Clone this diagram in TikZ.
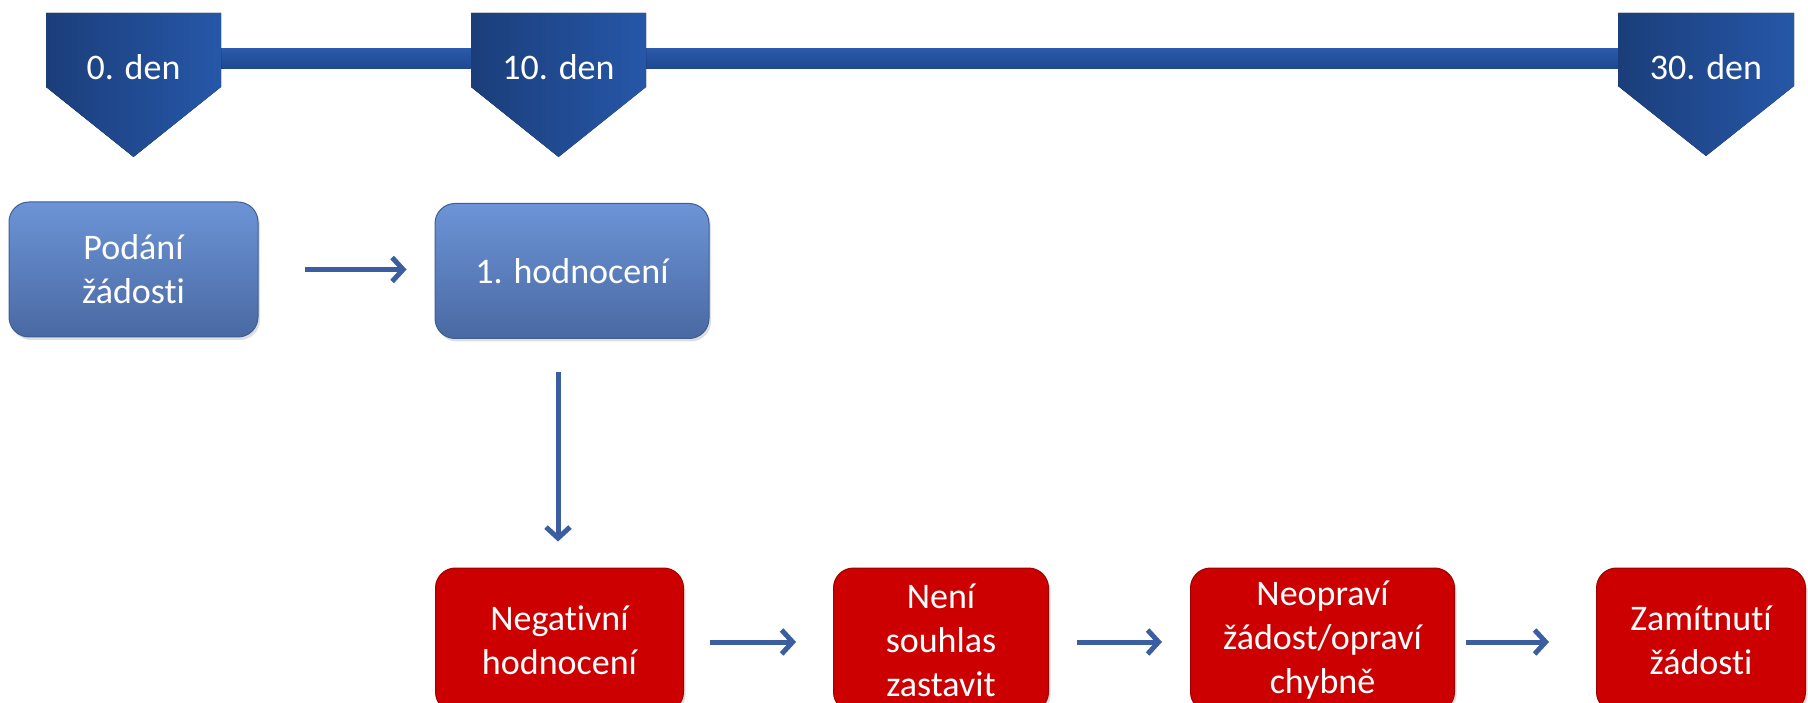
\documentclass[tikz,border=0pt]{standalone}
\usepackage{fontspec}
\setmainfont[Ligatures=NoCommon]{Carlito}
\usetikzlibrary{arrows.meta,shadows}
\definecolor{penL}{HTML}{1B3E7A}
\definecolor{penR}{HTML}{2657A8}
\definecolor{barT}{HTML}{2A5AAA}
\definecolor{barB}{HTML}{1E478F}
\definecolor{blueT}{HTML}{6C94D6}
\definecolor{blueB}{HTML}{4A69A3}
\definecolor{blueD}{HTML}{3F5E96}
\definecolor{redC}{HTML}{CC0000}
\definecolor{redT}{HTML}{E45050}
\definecolor{redD}{HTML}{A00000}
\definecolor{arrC}{HTML}{3A5E9F}
\pgfdeclareverticalshading{redgloss}{100bp}{color(0bp)=(redC); color(82bp)=(redC); color(92bp)=(redC!85!redT); color(100bp)=(redT)}
\begin{document}
\begin{tikzpicture}[x=1pt,y=-1pt,
  txt/.style={text=white,font=\fontsize{36}{44}\selectfont,align=center},
  boxbase/.style={txt,rounded corners=20pt,line width=1pt,inner sep=0pt,
     drop shadow={opacity=0.25,shadow xshift=2pt,shadow yshift=-3pt}},
  bluebox/.style={boxbase,draw=blueD,top color=blueT,bottom color=blueB,minimum height=135pt},
  redbox/.style={boxbase,draw=redD,shading=redgloss,minimum height=144pt},
  pent/.style={left color=penL,right color=penR},
  arr/.style={draw=arrC,line width=5pt,-{Straight Barb[length=11pt,width=24pt,line width=5pt]}}
]
\useasboundingbox (0,0) rectangle (1808,703);
\clip (0,0) rectangle (1808,703);

% timeline bar
\shade[top color=barT,bottom color=barB] (200,49) rectangle (1640,69);

% pentagons
\fill[pent] (46,13) -- (221,13) -- (221,87) -- (133.5,157) -- (46,87) -- cycle;
\fill[pent] (471,13) -- (646,13) -- (646,87) -- (558.5,157) -- (471,87) -- cycle;
\fill[pent] (1618,13) -- (1794,13) -- (1794,86) -- (1706,156) -- (1618,86) -- cycle;
\node[txt,anchor=base] (d0) at (133.5,80) {0. den};
\node[txt,anchor=base] (d10) at (558.5,80) {10. den};
\node[txt,anchor=base] (d30) at (1706,80) {30. den};

% blue boxes
\node[bluebox,minimum width=249pt] (pod) at (133.5,269.5) {Podání\\žádosti};
\node[bluebox,minimum width=274pt] (hod) at (572,271) {1. hodnocení};

% red boxes
\node[redbox,minimum width=248pt] (neg) at (559.5,640) {Negativní\\hodnocení};
\node[redbox,minimum width=215pt] (nen) at (941,640) {Není\\souhlas\\zastavit};
\node[redbox,minimum width=264pt] (neo) at (1322.5,640) {Neopraví\\žádost/opraví\\chybně};
\node[redbox,minimum width=209pt] (zam) at (1701,640) {Zamítnutí\\žádosti};

% connectors
\draw[arr,shorten <=46pt,shorten >=28pt] (pod.east) -- (pod.east -| hod.west);
\draw[arr,shorten <=33pt,shorten >=26pt] (hod.south -| 558,0) -- (neg.north -| 558,0);
\draw[arr,shorten <=26pt,shorten >=37pt] ([yshift=-2pt]neg.east) -- ([yshift=-2pt]nen.west);
\draw[arr,shorten <=28pt,shorten >=28pt] ([yshift=-2pt]nen.east) -- ([yshift=-2pt]neo.west);
\draw[arr,shorten <=11pt,shorten >=47pt] ([yshift=-2pt]neo.east) -- ([yshift=-2pt]zam.west);
\end{tikzpicture}
\end{document}
